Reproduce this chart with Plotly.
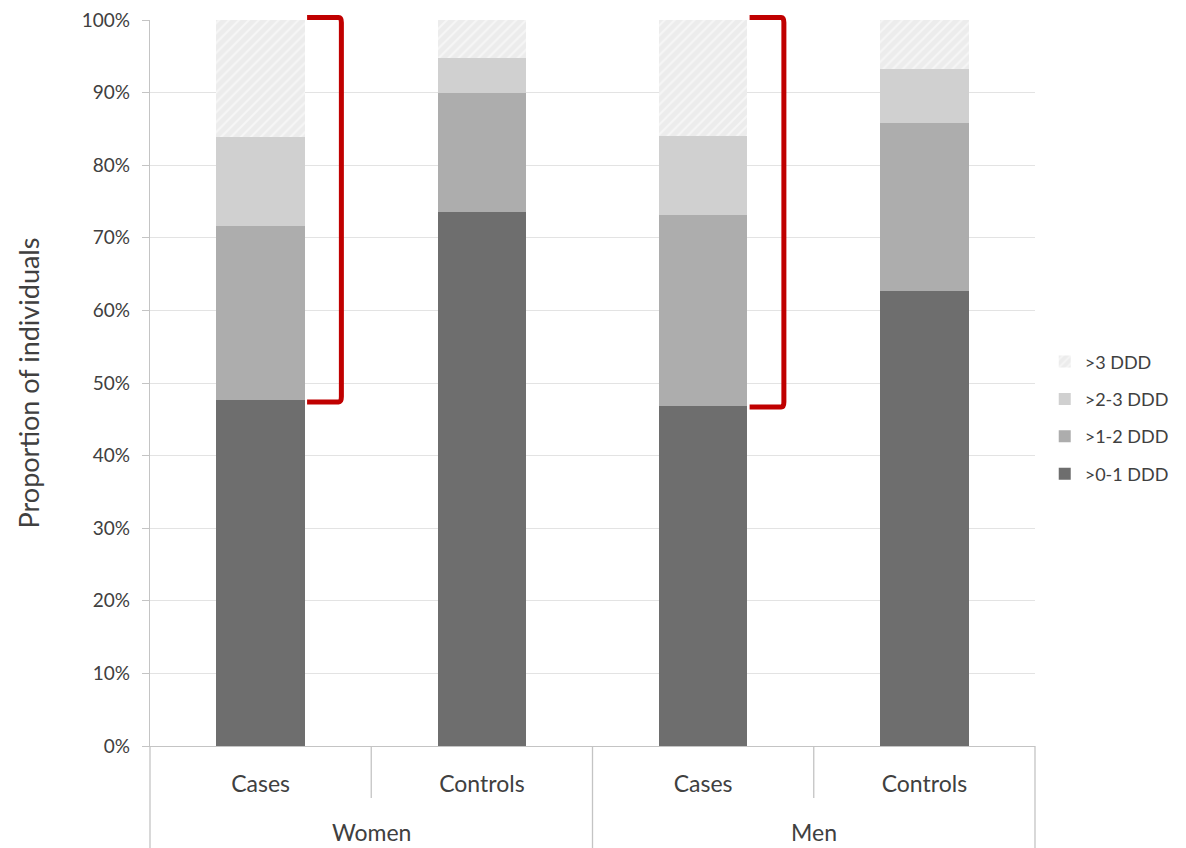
import plotly.graph_objects as go

groups = ["Women", "Women", "Men", "Men"]
subgroups = ["Cases", "Controls", "Cases", "Controls"]
series_names = [">0-1 DDD", ">1-2 DDD", ">2-3 DDD", ">3 DDD"]
dose_0_1 = [47.6, 73.6, 46.9, 62.7]
dose_1_2 = [24.0, 16.3, 26.2, 23.1]
dose_2_3 = [12.3, 4.9, 10.9, 7.4]
dose_gt3 = [16.1, 5.2, 16.0, 6.8]
y_ticks = [0, 10, 20, 30, 40, 50, 60, 70, 80, 90, 100]
y_tick_text = [f"{v}%" for v in y_ticks]
y_title = "Proportion of individuals"
bracket_bars = [0, 2]  # bars marked with a red bracket

colors = ["#6e6e6e", "#adadad", "#d0d0d0", "#ececec"]
values = [dose_0_1, dose_1_2, dose_2_3, dose_gt3]
FONT = "Lato, 'Open Sans', sans-serif"
TXT = "#404040"
AX = "#c4c4c4"

n = len(subgroups)
xpos = list(range(n))


def xp(v):
    # category-unit position -> paper fraction (x range is [-0.5, n-0.5])
    return (v + 0.5) / n


fig = go.Figure()
for k, (name, vals, col) in enumerate(zip(series_names, values, colors)):
    marker = dict(color=col, line=dict(width=0))
    if name == ">3 DDD":
        marker["pattern"] = dict(shape="/", bgcolor="#ececec", fgcolor="#f6f6f6",
                                 size=7, solidity=0.3, fillmode="replace")
    fig.add_trace(go.Bar(x=xpos, y=vals, name=name, marker=marker,
                         legendgroup=f"g{k}", legendrank=len(series_names) - k))

shapes = []
annotations = []
# dividers under the axis
for k in range(n + 1):
    xb = xp(k - 0.5)
    if k in (0, n) or groups[k] != groups[k - 1]:
        y1 = -0.2
    else:
        y1 = -0.0716
    shapes.append(dict(type="line", xref="paper", yref="paper", x0=xb, x1=xb,
                       y0=0, y1=y1, line=dict(color=AX, width=1.3)))

# outer group labels
seen = []
for g in groups:
    if g not in seen:
        seen.append(g)
for g in seen:
    idx = [i for i, gg in enumerate(groups) if gg == g]
    annotations.append(dict(text=g, xref="paper", yref="paper",
                            x=xp(sum(idx) / len(idx)), y=-0.1185,
                            xanchor="center", yanchor="middle", showarrow=False,
                            font=dict(size=23, color=TXT, family=FONT)))

# red brackets
for i in bracket_bars:
    xs = xp(i + 0.21)
    xv = xp(i + 0.365)
    rx = 0.003
    ytop = 100.35 / 100
    ybot = (dose_0_1[i] - 0.2) / 100
    ry = 0.007
    path = (f"M {xs},{ytop} L {xv - rx},{ytop} Q {xv},{ytop} {xv},{ytop - ry} "
            f"L {xv},{ybot + ry} Q {xv},{ybot} {xv - rx},{ybot} L {xs},{ybot}")
    shapes.append(dict(type="path", xref="paper", yref="paper", path=path,
                       line=dict(color="#c00000", width=5)))

fig.update_layout(
    width=1186, height=848,
    margin=dict(l=150, r=149, t=20, b=102),
    barmode="stack", bargap=0.6,
    plot_bgcolor="white", paper_bgcolor="white",
    font=dict(family=FONT, color=TXT, size=16),
    showlegend=True,
    legend=dict(traceorder="grouped", x=1.011, xanchor="left", y=0.452,
                yanchor="middle", font=dict(size=18, color=TXT), tracegroupgap=11,
                itemwidth=30),
    shapes=shapes,
    annotations=annotations,
)
fig.update_xaxes(
    range=[-0.5, n - 0.5], tickvals=xpos, ticktext=subgroups,
    showline=True, linecolor=AX, linewidth=1.3,
    ticks="outside", ticklen=17, tickcolor="rgba(0,0,0,0)",
    tickfont=dict(size=23, color=TXT), showgrid=False, zeroline=False,
    automargin=False,
)
fig.update_yaxes(
    range=[0, 100], tickvals=y_ticks, ticktext=y_tick_text,
    showline=True, linecolor=AX, linewidth=1.3,
    ticks="outside", ticklen=7, tickcolor=AX, ticklabelstandoff=8,
    ticklabeloverflow="allow",
    showgrid=True, gridcolor="#e3e3e3", gridwidth=1.3,
    tickfont=dict(size=19, color=TXT),
    title=dict(text=y_title, font=dict(size=27, color=TXT), standoff=34),
    zeroline=False, automargin=False,
)

fig.write_html(
    "out.html",
    config={"displayModeBar": False},
    post_script="document.body.style.margin='0';document.body.style.overflow='hidden';",
)
